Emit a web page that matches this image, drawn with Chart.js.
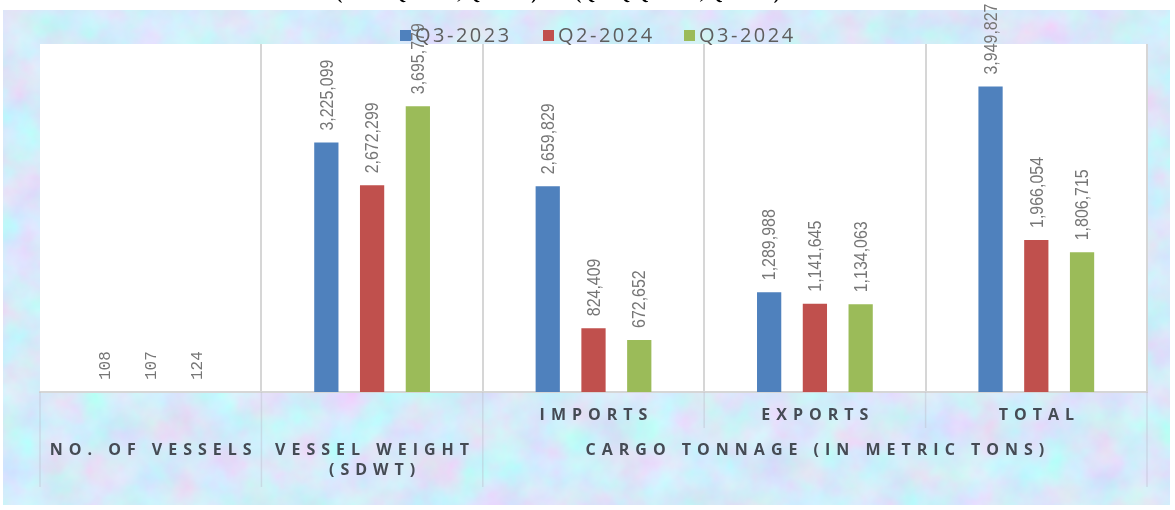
<!DOCTYPE html>
<html>
<head>
<meta charset="utf-8">
<script src="https://cdn.jsdelivr.net/npm/chart.js@4.4.1/dist/chart.umd.min.js"></script>
<style>
html,body{margin:0;padding:0;background:#fff;}
#wrap{position:relative;width:1175px;height:510px;overflow:hidden;}
#bg{position:absolute;left:3px;top:10px;width:1167px;height:495px;}
#chart{position:absolute;left:0;top:0;}
</style>
</head>
<body>
<div id="wrap">
  <svg id="bg" width="1167" height="495" xmlns="http://www.w3.org/2000/svg">
    <filter id="marble" x="0" y="0" width="100%" height="100%">
      <feTurbulence type="fractalNoise" baseFrequency="0.025" numOctaves="4" seed="11"/>
      <feColorMatrix type="matrix" values="0.4 -0.25 0 0 0.59  -0.15 0.4 0 0 0.70  0 0 0.2 0 0.85  0 0 0 0 1"/>
    </filter>
    <rect width="1167" height="495" filter="url(#marble)"/>
  </svg>
  <canvas id="chart" width="1175" height="510"></canvas>
</div>
<script>
// quarter figures per category
var categories = ['NO. OF VESSELS', 'VESSEL WEIGHT', 'IMPORTS', 'EXPORTS', 'TOTAL'];
var seriesNames = ['Q3-2023', 'Q2-2024', 'Q3-2024'];
var q3_2023 = [108, 3225099, 2659829, 1289988, 3949827];
var q2_2024 = [107, 2672299, 824409, 1141645, 1966054];
var q3_2024 = [124, 3695779, 672652, 1134063, 1806715];
var seriesColors = ['#4f81bd', '#c0504d', '#9bbb59'];

// two-level category axis text
var innerLabels = ['', '', 'IMPORTS', 'EXPORTS', 'TOTAL'];
var outerGroups = [
  {from: 0, to: 0, lines: ['NO. OF VESSELS']},
  {from: 1, to: 1, lines: ['VESSEL WEIGHT', '(SDWT)']},
  {from: 2, to: 4, lines: ['CARGO TONNAGE (IN METRIC TONS)']}
];
var headline = '(Y-o-Y Q3-2023, Q3-2024) and (Q-o-Q Q2-2024, Q3-2024)';

var plotBg = {
  id: 'plotBg',
  beforeDraw: function(chart) {
    var a = chart.chartArea, ctx = chart.ctx;
    ctx.save();
    ctx.fillStyle = '#ffffff';
    ctx.fillRect(a.left, a.top, a.right - a.left, a.bottom - a.top);
    ctx.restore();
  }
};

var valueLabels = {
  id: 'valueLabels',
  afterDatasetsDraw: function(chart) {
    var ctx = chart.ctx;
    chart.data.datasets.forEach(function(ds, i) {
      chart.getDatasetMeta(i).data.forEach(function(bar, j) {
        var txt = ds.data[j].toLocaleString('en-US');
        ctx.save();
        ctx.translate(bar.x, bar.y - 12);
        ctx.rotate(-Math.PI / 2);
        if (j === 0) {
          ctx.font = '16px "Liberation Mono"';
        } else {
          // condensed look
          ctx.scale(0.84, 1);
          ctx.font = '19px "Liberation Sans"';
        }
        ctx.fillStyle = '#767676';
        ctx.textAlign = 'left';
        ctx.textBaseline = 'middle';
        ctx.fillText(txt, 0, 1);
        ctx.restore();
      });
    });
  }
};

var axisText = {
  id: 'axisText',
  afterDraw: function(chart) {
    var ctx = chart.ctx, a = chart.chartArea, xs = chart.scales.x;
    var step = (a.right - a.left) / categories.length;
    ctx.save();
    // divider lines under the plot
    ctx.strokeStyle = 'rgba(185,185,200,0.4)';
    ctx.lineWidth = 1.5;
    var full = [0, 1, 2, 5];
    for (var k = 0; k <= categories.length; k++) {
      var x = a.left + k * step;
      ctx.beginPath();
      ctx.moveTo(x, a.bottom);
      ctx.lineTo(x, full.indexOf(k) >= 0 ? 487 : 428);
      ctx.stroke();
    }
    ctx.fillStyle = '#454b54';
    ctx.font = 'bold 16px "Open Sans"';
    ctx.letterSpacing = '6px';
    ctx.textAlign = 'center';
    ctx.textBaseline = 'middle';
    innerLabels.forEach(function(t, i) {
      if (t) ctx.fillText(t, xs.getPixelForValue(i) + 3, 415);
    });
    outerGroups.forEach(function(g) {
      var cx = (xs.getPixelForValue(g.from) + xs.getPixelForValue(g.to)) / 2 + 3;
      g.lines.forEach(function(line, n) {
        ctx.fillText(line, cx, 450 + n * 20);
      });
    });
    // legend
    ctx.letterSpacing = '2.5px';
    ctx.font = '20px "Open Sans"';
    ctx.textAlign = 'left';
    var legendX = [400, 543, 684];
    chart.data.datasets.forEach(function(ds, i) {
      ctx.fillStyle = ds.backgroundColor;
      ctx.fillRect(legendX[i], 30, 11, 11);
      ctx.fillStyle = '#5e5e5e';
      ctx.fillText(ds.label, legendX[i] + 15, 36);
    });
    // heading line above, clipped by the page edge
    ctx.letterSpacing = '0px';
    ctx.fillStyle = '#000000';
    ctx.font = 'bold 18px "Liberation Serif"';
    ctx.textAlign = 'center';
    ctx.textBaseline = 'alphabetic';
    ctx.fillText(headline, 558, -1.5);
    ctx.restore();
  }
};

var ctx = document.getElementById('chart').getContext('2d');
var chart = new Chart(ctx, {
  type: 'bar',
  data: {
    labels: categories,
    datasets: [
      {label: seriesNames[0], data: q3_2023, backgroundColor: seriesColors[0]},
      {label: seriesNames[1], data: q2_2024, backgroundColor: seriesColors[1]},
      {label: seriesNames[2], data: q3_2024, backgroundColor: seriesColors[2]}
    ]
  },
  options: {
    responsive: false,
    animation: false,
    categoryPercentage: 0.62,
    barPercentage: 0.53,
    layout: {padding: {left: 40, right: 28, top: 44, bottom: 118}},
    plugins: {legend: {display: false}, tooltip: {enabled: false}},
    scales: {
      x: {
        ticks: {display: false},
        grid: {
          offset: true,
          drawTicks: false,
          lineWidth: 2,
          color: function(c) { return (c.index === 0 || c.index === categories.length) ? 'rgba(0,0,0,0)' : '#d6d6d6'; }
        },
        border: {color: '#d6d6d6', width: 2}
      },
      y: {display: false, min: 0, max: 4500000}
    }
  },
  plugins: [plotBg, valueLabels, axisText]
});
</script>
</body>
</html>
